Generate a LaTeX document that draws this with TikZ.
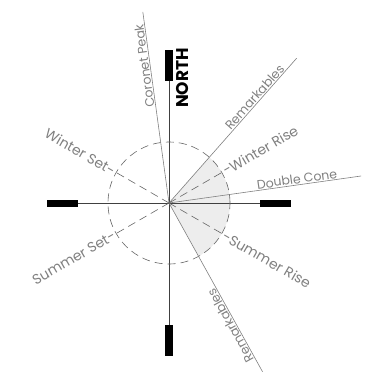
\documentclass[tikz,border=0pt]{standalone}
\usepackage{fontspec}
\setmainfont{Poppins}
\begin{document}
\begin{tikzpicture}[x=1pt,y=1pt,
  axis/.style={draw=black!75, line width=0.7pt},
  bar/.style={fill=black, draw=none, inner sep=0pt},
  land/.style={draw=black!50, line width=0.6pt},
  sun/.style={draw=black!60, line width=0.6pt, dash pattern=on 8pt off 5pt},
  lbl/.style={text=black!50, inner sep=1pt},
  big/.style={font=\fontsize{14}{14}\selectfont},
  small/.style={font=\fontsize{12.5}{12.5}\selectfont},
]
\useasboundingbox (-169,-180) rectangle (197,203);
\coordinate (O) at (0,0);
% shaded sector
\fill[black!7] (O) -- (-61:61) arc[start angle=-61, end angle=48.6, radius=61] -- cycle;
% bars
\node[bar, minimum width=7pt, minimum height=31pt, anchor=south] (nb) at (0,122) {};
\node[bar, minimum width=7pt, minimum height=31pt, anchor=north] (sb) at (0,-122) {};
\node[bar, minimum width=31pt, minimum height=7pt, anchor=east] (wb) at (-91,0) {};
\node[bar, minimum width=31pt, minimum height=7pt, anchor=west] (eb) at (91,0) {};
\draw[axis] (nb.south) -- (sb.north);
\draw[axis] (wb.east) -- (eb.west);
\node[rotate=90, anchor=center, inner sep=0pt, font=\fontsize{17}{17}\selectfont\bfseries] (north) at (14,125) {NORTH};
% dashed circle
\draw[sun] (O) circle[radius=61];
% landmark lines
\coordinate (cp) at (97.8:193);
\coordinate (rne) at (48.6:193);
\coordinate (dc) at (8:194);
\coordinate (rse) at (-61:193);
\draw[land] (O) -- (cp);
\draw[land] (O) -- (rne);
\draw[land] (O) -- (dc);
\draw[land] (O) -- (rse);
\node[lbl, small, rotate=97.8, anchor=south] (cpl) at (97.8:139) {Coronet Peak};
\node[lbl, small, rotate=48.6, anchor=south] (rnel) at (48.6:136) {Remarkables};
\node[lbl, small, rotate=8, anchor=south] (dcl) at (8:130) {Double Cone};
\node[lbl, small, rotate=119, anchor=south] (rsel) at (-61:137) {Remarkables};
% sun lines
\node[lbl, big, rotate=30, anchor=west] (wr) at (30:62) {-Winter Rise};
\node[lbl, big, rotate=-30, anchor=west] (sr) at (-30:62) {-Summer Rise};
\node[lbl, big, rotate=-30, anchor=east] (ws) at (150:62) {Winter Set-};
\node[lbl, big, rotate=30, anchor=east] (ss) at (-150:62) {Summer Set-};
\draw[sun] (O) -- (wr.west);
\draw[sun] (O) -- (sr.west);
\draw[sun] (O) -- (ws.east);
\draw[sun] (O) -- (ss.east);
\end{tikzpicture}
\end{document}
